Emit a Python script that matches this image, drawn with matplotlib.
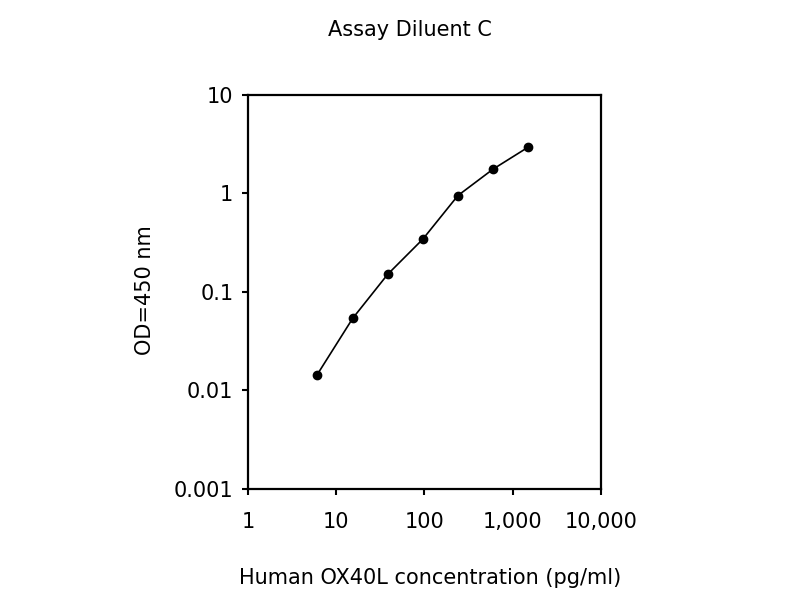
import numpy as np
import matplotlib
matplotlib.use("Agg")
from matplotlib import pyplot as plt
from matplotlib.ticker import FixedLocator, FixedFormatter, NullLocator

# standard curve, 2.5-fold dilutions
conc = [6.1, 15.4, 38.4, 96, 240, 600, 1500]
od = [0.0145, 0.054, 0.151, 0.343, 0.95, 1.76, 2.94]

x_ticks = [1, 10, 100, 1000, 10000]
x_labels = ["1", "10", "100", "1,000", "10,000"]
y_ticks = [0.001, 0.01, 0.1, 1, 10]
y_labels = ["0.001", "0.01", "0.1", "1", "10"]

plt.rcParams['font.family'] = ['DejaVu Sans']
fs = 15

fig = plt.figure(figsize=(8, 6), dpi=100)
ax = fig.add_axes([0.31, 0.185, 0.441, 0.657])

ax.plot(conc, od, color='black', lw=1.2, marker='o', markersize=6,
        markerfacecolor='black', markeredgecolor='black')

ax.set_xscale('log')
ax.set_yscale('log')
ax.set_xlim(1, 10000)
ax.set_ylim(0.001, 10)

ax.xaxis.set_major_locator(FixedLocator(x_ticks))
ax.xaxis.set_major_formatter(FixedFormatter(x_labels))
ax.yaxis.set_major_locator(FixedLocator(y_ticks))
ax.yaxis.set_major_formatter(FixedFormatter(y_labels))
ax.xaxis.set_minor_locator(NullLocator())
ax.yaxis.set_minor_locator(NullLocator())

ax.tick_params(axis='x', direction='out', length=4.5, width=1.5, pad=12, labelsize=fs)
ax.tick_params(axis='y', direction='out', length=4.5, width=1.5, pad=6, labelsize=fs)
for s in ax.spines.values():
    s.set_linewidth(1.6)

fig.text(0.512, 0.95, "Assay Diluent C", ha='center', va='center', fontsize=fs)
fig.text(0.538, 0.037, "Human OX40L concentration (pg/ml)", ha='center', va='center', fontsize=fs)
fig.text(0.181, 0.517, "OD=450 nm", ha='center', va='center', rotation=90, fontsize=fs)

fig.savefig("out.png", dpi=100)
